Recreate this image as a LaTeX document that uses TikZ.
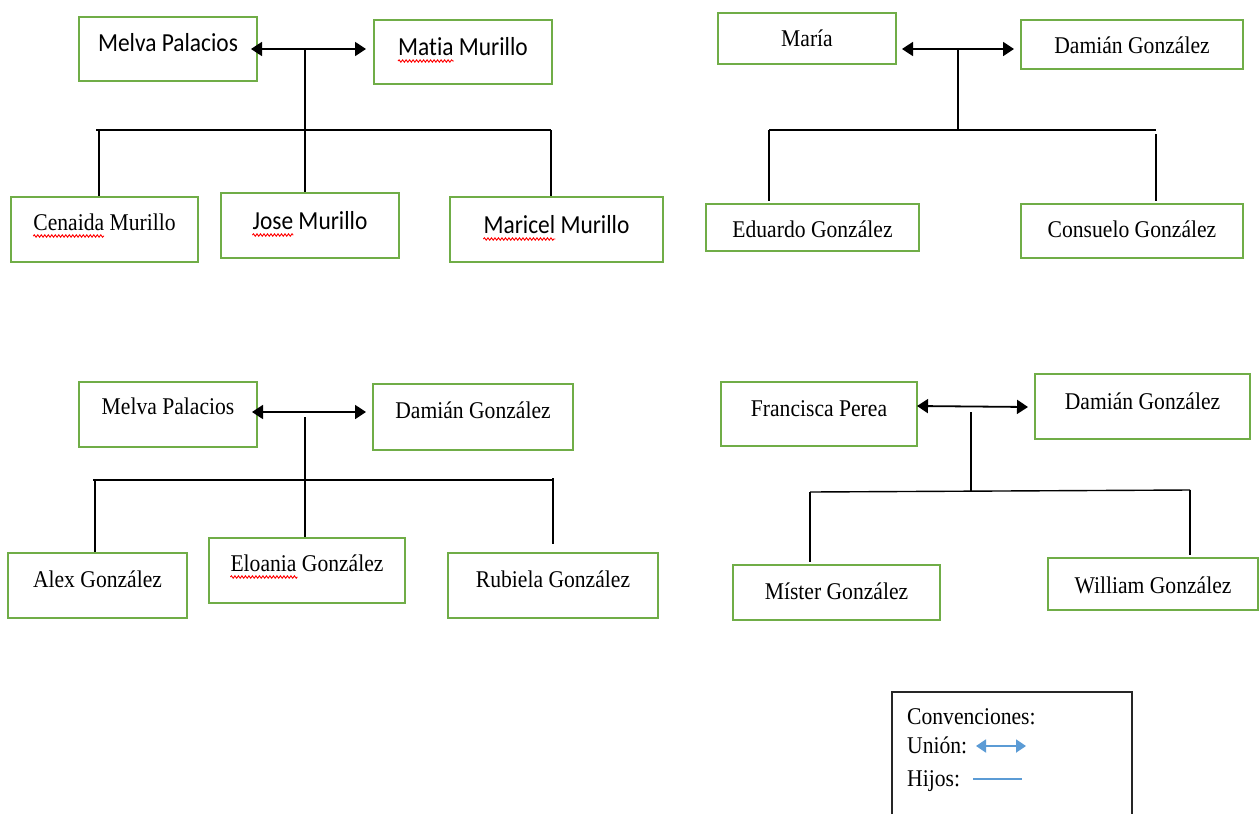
\documentclass[tikz,border=0pt]{standalone}
\usepackage{fontspec}
\setmainfont{Liberation Serif}[FakeStretch=0.9]
\newfontfamily\calib{Carlito}[FakeStretch=0.9, RawFeature={-liga}]
\usetikzlibrary{arrows.meta,decorations.pathmorphing}
\definecolor{boxgreen}{RGB}{112,173,71}
\definecolor{legblue}{RGB}{91,155,213}
\tikzset{
  pbox/.style={draw=boxgreen, line width=1.5pt, inner sep=0pt, rectangle},
  ptext/.style={anchor=base, inner sep=0pt, font=\fontsize{24}{28}\selectfont},
  ctext/.style={anchor=base, inner sep=0pt, font=\calib\fontsize{26}{30}\selectfont},
  ltext/.style={anchor=base west, inner sep=0pt, font=\fontsize{24}{28}\selectfont},
  union/.style={line width=1.8pt, {Triangle[length=11pt,width=14pt]}-{Triangle[length=11pt,width=14pt]}},
  kid/.style={line width=1.4pt},
  spell/.style={draw=red, line width=0.9pt, decorate, decoration={snake, amplitude=1.2pt, segment length=3.5pt}},
  legline/.style={draw=black!85, line width=1.4pt},
  legunion/.style={draw=legblue, line width=1.8pt, {Triangle[length=10pt,width=13pt]}-{Triangle[length=10pt,width=13pt]}},
  legkid/.style={draw=legblue, line width=1.3pt},
}
% name, x1, y1, x2, y2, baseline, text style, text
\newcommand\person[8]{%
  \node[pbox, minimum width={(#4-#2)*1pt}, minimum height={(#5-#3)*1pt}] (#1) at ({(#2+#4)/2},{(#3+#5)/2}) {};
  \node[#7] (#1t) at ({(#2+#4)/2},#6) {#8};
}
\begin{document}
\begin{tikzpicture}[x=1pt,y=-1pt]
\fill[white] (0,0) rectangle (1260,814);
\useasboundingbox (0,0) rectangle (1260,814);

% ---------------- Group 1 ----------------
\person{g1a}{79}{17}{257}{81}{51}{ctext}{Melva Palacios}
\person{g1b}{374}{20}{552}{84}{55}{ctext}{Matia Murillo}
\person{g1c}{11}{197}{198}{262}{230}{ptext}{Cenaida Murillo}
\person{g1d}{221}{193}{399}{258}{229}{ctext}{Jose Murillo}
\person{g1e}{450}{197}{663}{262}{233}{ctext}{Maricel Murillo}
\coordinate (g1ul) at (251,49);
\coordinate (g1ur) at (366,49);
\coordinate (g1j) at (305,49);
\coordinate (g1bar) at (305,130);
\coordinate (g1L) at (96,130);
\coordinate (g1R) at (551,130);
\draw[union] (g1ul) -- (g1ur);
\draw[kid] (g1j) -- (g1bar);
\draw[kid] (g1L) -- (g1R);
\draw[kid] (99,130) coordinate (g1cl) -- (g1cl |- g1c.north);
\draw[kid] (g1bar) -- (g1bar |- g1d.north);
\draw[kid] (g1R) -- (g1R |- g1e.north);
\draw[spell] ([yshift=-6pt]g1bt.base west) -- ++(56,0);
\draw[spell] ([yshift=-6pt]g1ct.base west) -- ++(71,0);
\draw[spell] ([yshift=-6pt]g1dt.base west) -- ++(41,0);
\draw[spell] ([yshift=-6pt]g1et.base west) -- ++(72,0);

% ---------------- Group 2 ----------------
\person{g2a}{718}{13}{896}{64}{46}{ptext}{María}
\person{g2b}{1021}{20}{1243}{69}{53}{ptext}{Damián González}
\person{g2c}{706}{204}{919}{251}{237}{ptext}{Eduardo González}
\person{g2d}{1021}{204}{1243}{258}{237}{ptext}{Consuelo González}
\coordinate (g2ul) at (902,49);
\coordinate (g2ur) at (1014,49);
\coordinate (g2j) at (958,49);
\coordinate (g2bar) at (958,130);
\coordinate (g2L) at (769,130);
\coordinate (g2R) at (1156,130);
\draw[union] (g2ul) -- (g2ur);
\draw[kid] (g2j) -- (g2bar);
\draw[kid] (g2L) -- (g2R);
\draw[kid] (g2L) -- ([yshift=2pt]g2L |- g2c.north);
\draw[kid] ([yshift=-4pt]g2R) -- ([yshift=2pt]g2R |- g2d.north);

% ---------------- Group 3 ----------------
\person{g3a}{79}{382}{257}{447}{414}{ptext}{Melva Palacios}
\person{g3b}{373}{384}{573}{450}{418}{ptext}{Damián González}
\person{g3c}{8}{553}{187}{618}{587}{ptext}{Alex González}
\person{g3d}{209}{538}{405}{603}{571}{ptext}{Eloania González}
\person{g3e}{448}{553}{658}{618}{587}{ptext}{Rubiela González}
\coordinate (g3ul) at (252,412);
\coordinate (g3ur) at (366,412);
\coordinate (g3j) at (305,417);
\coordinate (g3bar) at (305,480);
\coordinate (g3L) at (93,480);
\coordinate (g3R) at (553,480);
\draw[union] (g3ul) -- (g3ur);
\draw[kid] (g3j) -- (g3j |- g3d.north);
\draw[kid] (g3L) -- (g3R);
\draw[kid] (95,480) coordinate (g3cl) -- (g3cl |- g3c.north);
\draw[kid] ([yshift=2pt]g3R) -- ([yshift=8pt]g3R |- g3e.north);
\draw[spell] ([yshift=-6pt]g3dt.base west) -- ++(67,0);

% ---------------- Group 4 ----------------
\person{g4a}{721}{382}{917}{446}{416}{ptext}{Francisca Perea}
\person{g4b}{1035}{374}{1250}{439}{409}{ptext}{Damián González}
\person{g4c}{733}{565}{940}{620}{599}{ptext}{Míster González}
\person{g4d}{1048}{558}{1258}{610}{593}{ptext}{William González}
\coordinate (g4ul) at (917,406);
\coordinate (g4ur) at (1028,407);
\coordinate (g4j) at (971,412);
\coordinate (g4bar) at (971,492);
\coordinate (g4L) at (810,492);
\coordinate (g4R) at (1190,490);
\draw[union] (g4ul) -- (g4ur);
\draw[kid] (g4j) -- (g4bar);
\draw[kid] (g4L) -- (g4R);
\draw[kid] (g4L) -- ([yshift=2pt]g4L |- g4c.north);
\draw[kid] (g4R) -- ([yshift=2pt]g4R |- g4d.north);

% ---------------- Legend ----------------
\draw[legline] (892,814) |- (1132,692) -- (1132,814);
\node[ltext] (lconv) at (907,724) {Convenciones:};
\node[ltext] (luni) at (907,753) {Unión:};
\node[ltext] (lhij) at (907,786) {Hijos:};
\coordinate (lua) at (976,746);
\coordinate (lub) at (1026,746);
\coordinate (lka) at (973,779);
\coordinate (lkb) at (1022,779);
\draw[legunion] (lua) -- (lub);
\draw[legkid] (lka) -- (lkb);
\end{tikzpicture}
\end{document}
